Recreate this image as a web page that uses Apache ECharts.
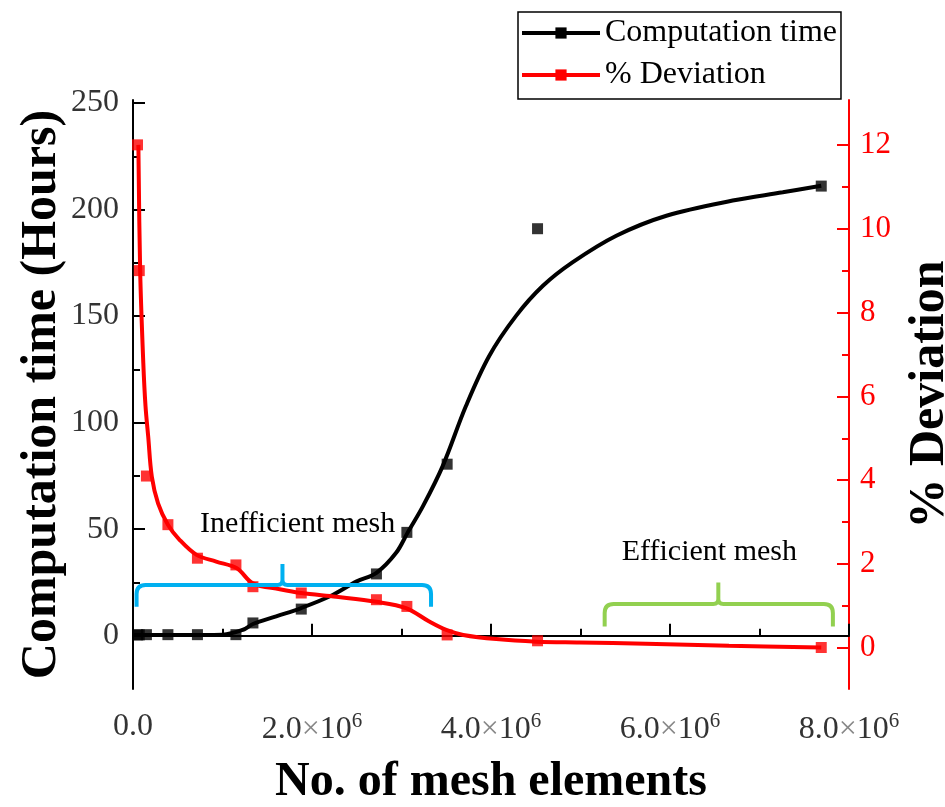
<!DOCTYPE html>
<html>
<head>
<meta charset="utf-8">
<title>Computation time and % deviation vs mesh elements</title>
<script src="https://cdn.jsdelivr.net/npm/echarts@6/dist/echarts.min.js"></script>
<style>
  html, body { margin: 0; padding: 0; background: #fff; }
  #main { width: 945px; height: 807px; }
</style>
</head>
<body>
<div id="main"></div>
<script>
// measured points (x = number of mesh elements)
const meshElements = [0.05e6, 0.07e6, 0.15e6, 0.39e6, 0.72e6, 1.15e6, 1.34e6, 1.88e6, 2.72e6, 3.06e6, 3.51e6, 4.52e6, 7.69e6];
const timeHours = [0.4, 0.4, 0.5, 0.5, 0.5, 0.5, 6, 12.5, 29, 48.5, 80.5, 191, 211];
const deviationPct = [12.0, 9.0, 4.1, 2.94, 2.14, 1.98, 1.46, 1.31, 1.15, 0.99, 0.31, 0.17, 0.01];

// fitted curves
const timeFitX = [0, 0.5e6, 1.0e6, 1.23e6, 1.34e6, 1.6e6, 1.88e6, 2.2e6, 2.5e6, 2.72e6, 2.94e6, 3.07e6, 3.24e6, 3.46e6, 3.72e6, 3.98e6, 4.28e6, 4.58e6, 4.91e6, 5.4e6, 5.96e6, 6.7e6, 7.26e6, 7.69e6];
const timeFitY = [0.3, 0.3, 0.5, 2.8, 5.5, 9.1, 13, 18.5, 25.5, 29.5, 38.9, 48.5, 60.8, 79.6, 107.8, 131.3, 150.1, 164.2, 175.2, 187.7, 197.1, 204.2, 208.1, 211.2];
const devFitX = [0.06e6, 0.08e6, 0.115e6, 0.14e6, 0.17e6, 0.21e6, 0.28e6, 0.39e6, 0.52e6, 0.71e6, 0.93e6, 1.16e6, 1.34e6, 1.64e6, 1.88e6, 2.27e6, 2.72e6, 3.05e6, 3.31e6, 3.5e6, 3.69e6, 4.06e6, 4.51e6, 4.99e6, 5.73e6, 6.66e6, 7.69e6];
const devFitY = [12.0, 9.0, 6.8, 5.76, 5.04, 4.09, 3.45, 2.94, 2.58, 2.22, 2.06, 1.9, 1.54, 1.4, 1.31, 1.22, 1.1, 0.95, 0.63, 0.43, 0.31, 0.21, 0.15, 0.13, 0.1, 0.05, 0.01];

// tick values
const timeTicks = [0, 50, 100, 150, 200, 250];
const timeMinorTicks = [25, 75, 125, 175, 225];
const devTicks = [0, 2, 4, 6, 8, 10, 12];
const devMinorTicks = [1, 3, 5, 7, 9, 11];

// brackets: x start / middle / end, y of ends / line / tip (in % deviation)
const bracketX = [[0.04e6, 1.67e6, 3.33e6], [5.27e6, 6.54e6, 7.82e6]];
const bracketY = [[0.98, 1.5, 2.0], [0.51, 1.05, 1.56]];
const noteText = ['Inefficient mesh', 'Efficient mesh'];
const noteX = [1.84e6, 6.44e6];
const noteY = [2.95, 2.28];

const serif = "'Liberation Serif', 'Times New Roman', serif";
const bracketColors = ['#00B0F0', '#92D050'];

const pairs = (xs, ys) => xs.map((x, i) => [x, ys[i]]);

function renderBracket(params, api) {
  const a = api.coord([api.value(0), api.value(3)]);
  const m = api.coord([api.value(1), api.value(4)]);
  const t = api.coord([api.value(1), api.value(5)]);
  const d = api.coord([api.value(2), api.value(3)]);
  const yl = m[1], r = 9, q = 5;
  const p = 'M' + a[0] + ',' + a[1] +
    ' L' + a[0] + ',' + (yl + r) +
    ' Q' + a[0] + ',' + yl + ' ' + (a[0] + r) + ',' + yl +
    ' L' + (m[0] - q) + ',' + yl +
    ' Q' + m[0] + ',' + yl + ' ' + m[0] + ',' + (yl - q) +
    ' L' + t[0] + ',' + t[1] +
    ' M' + m[0] + ',' + (yl - q) +
    ' Q' + m[0] + ',' + yl + ' ' + (m[0] + q) + ',' + yl +
    ' L' + (d[0] - r) + ',' + yl +
    ' Q' + d[0] + ',' + yl + ' ' + d[0] + ',' + (yl + r) +
    ' L' + d[0] + ',' + d[1];
  return {
    type: 'path',
    shape: { pathData: p },
    style: { fill: 'none', stroke: bracketColors[params.dataIndex], lineWidth: 4 }
  };
}

function renderNote(params, api) {
  const c = api.coord([api.value(0), api.value(1)]);
  return {
    type: 'text',
    style: {
      text: noteText[params.dataIndex], x: c[0], y: c[1],
      align: 'center', verticalAlign: 'middle',
      font: '30px ' + serif, fill: '#000'
    }
  };
}

const chart = echarts.init(document.getElementById('main'));

const tickLabel = {
  fontFamily: serif, fontSize: 32, color: '#333'
};

chart.setOption({
  animation: false,
  backgroundColor: '#fff',
  grid: { left: 133, right: 96, top: 100, bottom: 118, containLabel: false, outerBoundsMode: 'none' },
  legend: {
    data: ['Computation time', '% Deviation'],
    orient: 'vertical',
    left: 518, top: 12,
    padding: [2, 4, 5, 2],
    itemGap: 4,
    itemWidth: 78, itemHeight: 14,
    lineStyle: { width: 4 },
    borderColor: '#000', borderWidth: 1.5,
    textStyle: { fontFamily: serif, fontSize: 32, color: '#000', lineHeight: 38 }
  },
  xAxis: {
    type: 'value',
    min: 0, max: 8e6, interval: 2e6,
    name: 'No. of mesh elements',
    nameLocation: 'middle', nameGap: 70, nameMoveOverlap: false,
    nameTextStyle: { fontFamily: serif, fontSize: 48, fontWeight: 'bold', color: '#000' },
    axisLine: { lineStyle: { color: '#000', width: 2 } },
    axisTick: { inside: true, length: 12, lineStyle: { color: '#000', width: 2 } },
    minorTick: { show: true, splitNumber: 2, length: 7, lineStyle: { color: '#000', width: 2 } },
    splitLine: { show: false },
    axisLabel: {
      margin: 22,
      ...tickLabel,
      formatter: v => v === 0 ? '0.0' : '{n|' + (v / 1e6).toFixed(1) + '}{x|×}{n|10}{s|6}',
      rich: {
        n: { fontFamily: serif, fontSize: 32, color: '#333' },
        x: { fontFamily: serif, fontSize: 32, color: '#888' },
        s: { fontFamily: serif, fontSize: 21, color: '#333', padding: [0, 0, 16, 0] }
      }
    }
  },
  yAxis: [
    {
      type: 'value', position: 'left',
      min: -25, max: 251.4,
      name: 'Computation time (Hours)',
      nameLocation: 'middle', nameGap: 66, nameMoveOverlap: false,
      nameTextStyle: { fontFamily: serif, fontSize: 50, fontWeight: 'bold', color: '#000' },
      axisLine: { show: true, lineStyle: { color: '#000', width: 2 } },
      axisTick: { show: true, inside: true, length: 12, customValues: timeTicks, lineStyle: { color: '#000', width: 2 } },
      axisLabel: { margin: 14, customValues: timeTicks, ...tickLabel },
      splitLine: { show: false }
    },
    {
      type: 'value', position: 'left',
      min: -25, max: 251.4,
      axisLine: { show: false },
      axisTick: { show: true, inside: true, length: 7, customValues: timeMinorTicks, lineStyle: { color: '#000', width: 2 } },
      axisLabel: { show: false },
      splitLine: { show: false }
    },
    {
      type: 'value', position: 'right',
      min: -0.98, max: 13.07,
      name: '% Deviation',
      nameLocation: 'middle', nameGap: 56, nameMoveOverlap: false,
      nameTextStyle: { fontFamily: serif, fontSize: 50, fontWeight: 'bold', color: '#000' },
      axisLine: { show: true, lineStyle: { color: '#FF0000', width: 2 } },
      axisTick: { show: true, inside: true, length: 12, customValues: devTicks, lineStyle: { color: '#FF0000', width: 2 } },
      axisLabel: { margin: 11, customValues: devTicks, fontFamily: serif, fontSize: 31, color: '#FF0000' },
      splitLine: { show: false }
    },
    {
      type: 'value', position: 'right',
      min: -0.98, max: 13.07,
      axisLine: { show: false },
      axisTick: { show: true, inside: true, length: 7, customValues: devMinorTicks, lineStyle: { color: '#FF0000', width: 2 } },
      axisLabel: { show: false },
      splitLine: { show: false }
    }
  ],
  series: [
    {
      name: 'Computation time', type: 'line', yAxisIndex: 0,
      data: pairs(timeFitX, timeFitY),
      smooth: 0.35, showSymbol: false, symbol: 'rect', symbolSize: 11,
      lineStyle: { color: '#000', width: 4 }, itemStyle: { color: '#000' }, z: 3
    },
    {
      name: 'Computation time', type: 'scatter', yAxisIndex: 0,
      data: pairs(meshElements, timeHours),
      symbol: 'rect', symbolSize: 11, itemStyle: { color: '#000' }, z: 4
    },
    {
      name: '% Deviation', type: 'line', yAxisIndex: 2,
      data: pairs(devFitX, devFitY),
      smooth: 0.35, showSymbol: false, symbol: 'rect', symbolSize: 11,
      lineStyle: { color: '#FF0000', width: 4 }, itemStyle: { color: '#FF0000' }, z: 3
    },
    {
      name: '% Deviation', type: 'scatter', yAxisIndex: 2,
      data: pairs(meshElements, deviationPct),
      symbol: 'rect', symbolSize: 11, itemStyle: { color: '#FF0000' }, z: 4
    },
    {
      type: 'custom', yAxisIndex: 2, z: 5,
      data: bracketX.map((xs, i) => xs.concat(bracketY[i])),
      renderItem: renderBracket
    },
    {
      type: 'custom', yAxisIndex: 2, z: 5,
      data: pairs(noteX, noteY),
      renderItem: renderNote
    }
  ]
});
</script>
</body>
</html>
